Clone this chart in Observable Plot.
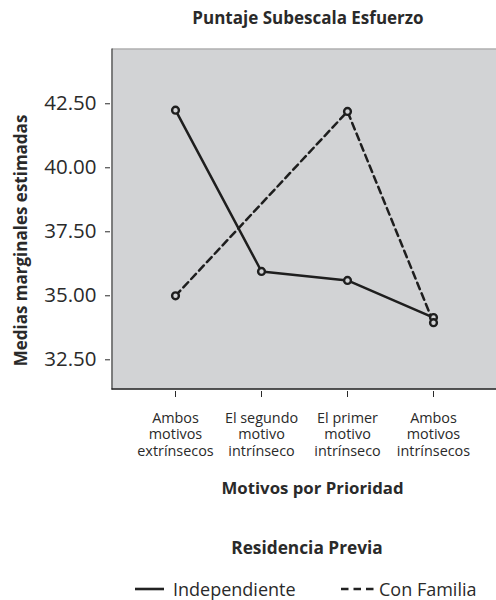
<!DOCTYPE html>
<html><head><meta charset="utf-8">
<script src="https://cdn.jsdelivr.net/npm/d3@7"></script>
<script src="https://cdn.jsdelivr.net/npm/@observablehq/plot@0.6"></script>
<style>
body{margin:0;background:#fff;font-family:"Open Sans",sans-serif;color:#2a2a2a;}
#wrap{position:relative;width:496px;height:600px;overflow:hidden;}
.t{position:absolute;white-space:nowrap;line-height:1;}
#title{left:0;width:616px;top:9px;text-align:center;font-weight:bold;font-size:17px;}
#plot{position:absolute;left:0;top:36px;}
#ltitle{left:0;width:614px;top:539px;text-align:center;font-weight:bold;font-size:17.3px;}
.item{position:absolute;top:577px;font-size:18px;display:flex;align-items:center;white-space:nowrap;}
</style>
</head><body>
<div id="wrap">
  <div id="title" class="t">Puntaje Subescala Esfuerzo</div>
  <div id="plot"></div>
  <div id="ltitle" class="t">Residencia Previa</div>
  <div class="item" style="left:135px"><svg width="29" height="6" style="margin-right:9px"><line x1="0" x2="29" y1="3" y2="3" stroke="#222" stroke-width="2.6"/></svg>Independiente</div>
  <div class="item" style="left:341px"><svg width="33" height="6" style="margin-right:5px"><line x1="0" x2="33" y1="3" y2="3" stroke="#222" stroke-width="2.6" stroke-dasharray="7.5,5"/></svg>Con Familia</div>
</div>
<script>
const categories = ["Ambos motivos extrínsecos", "El segundo motivo intrínseco", "El primer motivo intrínseco", "Ambos motivos intrínsecos"];
const tickLabels = ["Ambos\nmotivos\nextrínsecos", "El segundo\nmotivo\nintrínseco", "El primer\nmotivo\nintrínseco", "Ambos\nmotivos\nintrínsecos"];
const independiente = [42.25, 35.95, 35.6, 34.15];
const conFamilia = [35.0, null, 42.2, 33.95];
const yTicks = [32.5, 35, 37.5, 40, 42.5];
const yLabel = "Medias marginales estimadas";
const xLabel = "Motivos por Prioridad";

const rowsInd = categories.map((c, i) => ({cat: c, v: independiente[i]})).filter(d => d.v != null);
const rowsFam = categories.map((c, i) => ({cat: c, v: conFamilia[i]})).filter(d => d.v != null);
const fillGray = "#d2d3d5";

const chart = Plot.plot({
  width: 496, height: 470,
  marginLeft: 112, marginRight: 0, marginTop: 13, marginBottom: 117,
  style: {fontFamily: "Open Sans", color: "#2a2a2a", background: "transparent"},
  x: {type: "point", domain: categories, padding: 0.707, axis: null},
  y: {domain: [31.34, 44.62], axis: null},
  marks: [
    Plot.frame({fill: fillGray, stroke: "none"}),
    Plot.axisX({tickSize: 6, dy: 2, tickPadding: 13.3, fontSize: 14.4, lineHeight: 1.15, color: "#2a2a2a", label: null,
      tickFormat: d => tickLabels[categories.indexOf(d)]}),
    Plot.axisY(yTicks, {tickSize: 5, dx: -2, tickPadding: 9, fontSize: 20.5, color: "#2a2a2a", label: null,
      tickFormat: d3.format(".2f")}),
    Plot.line(rowsInd, {x: "cat", y: "v", stroke: "#1e1e1e", strokeWidth: 2.5}),
    Plot.line(rowsFam, {x: "cat", y: "v", stroke: "#1e1e1e", strokeWidth: 2.5, strokeDasharray: "7,4.5"}),
    Plot.dot(rowsInd, {x: "cat", y: "v", r: 3.4, stroke: "#1e1e1e", strokeWidth: 2.4, fill: fillGray}),
    Plot.dot(rowsFam, {x: "cat", y: "v", r: 3.4, stroke: "#1e1e1e", strokeWidth: 2.4, fill: fillGray}),
    Plot.text([yLabel], {frameAnchor: "left", textAnchor: "middle", dx: -91, dy: 21, rotate: -90, fontSize: 17, fontWeight: "bold", fill: "#2a2a2a"}),
    Plot.text([xLabel], {frameAnchor: "bottom", dy: 104, dx: 8, fontSize: 16.8, fontWeight: "bold", fill: "#2a2a2a"})
  ]
});
document.getElementById("plot").appendChild(chart);
const svg = d3.select(chart);
svg.append("line").attr("x1", 112).attr("x2", 496).attr("y1", 13).attr("y2", 13).attr("stroke", "#888").attr("stroke-width", 1.2);
svg.append("line").attr("x1", 112).attr("x2", 112).attr("y1", 12.5).attr("y2", 353.5).attr("stroke", "#555").attr("stroke-width", 1.5);
svg.append("line").attr("x1", 111.5).attr("x2", 496).attr("y1", 353).attr("y2", 353).attr("stroke", "#222").attr("stroke-width", 1.6);
</script>
</body></html>
